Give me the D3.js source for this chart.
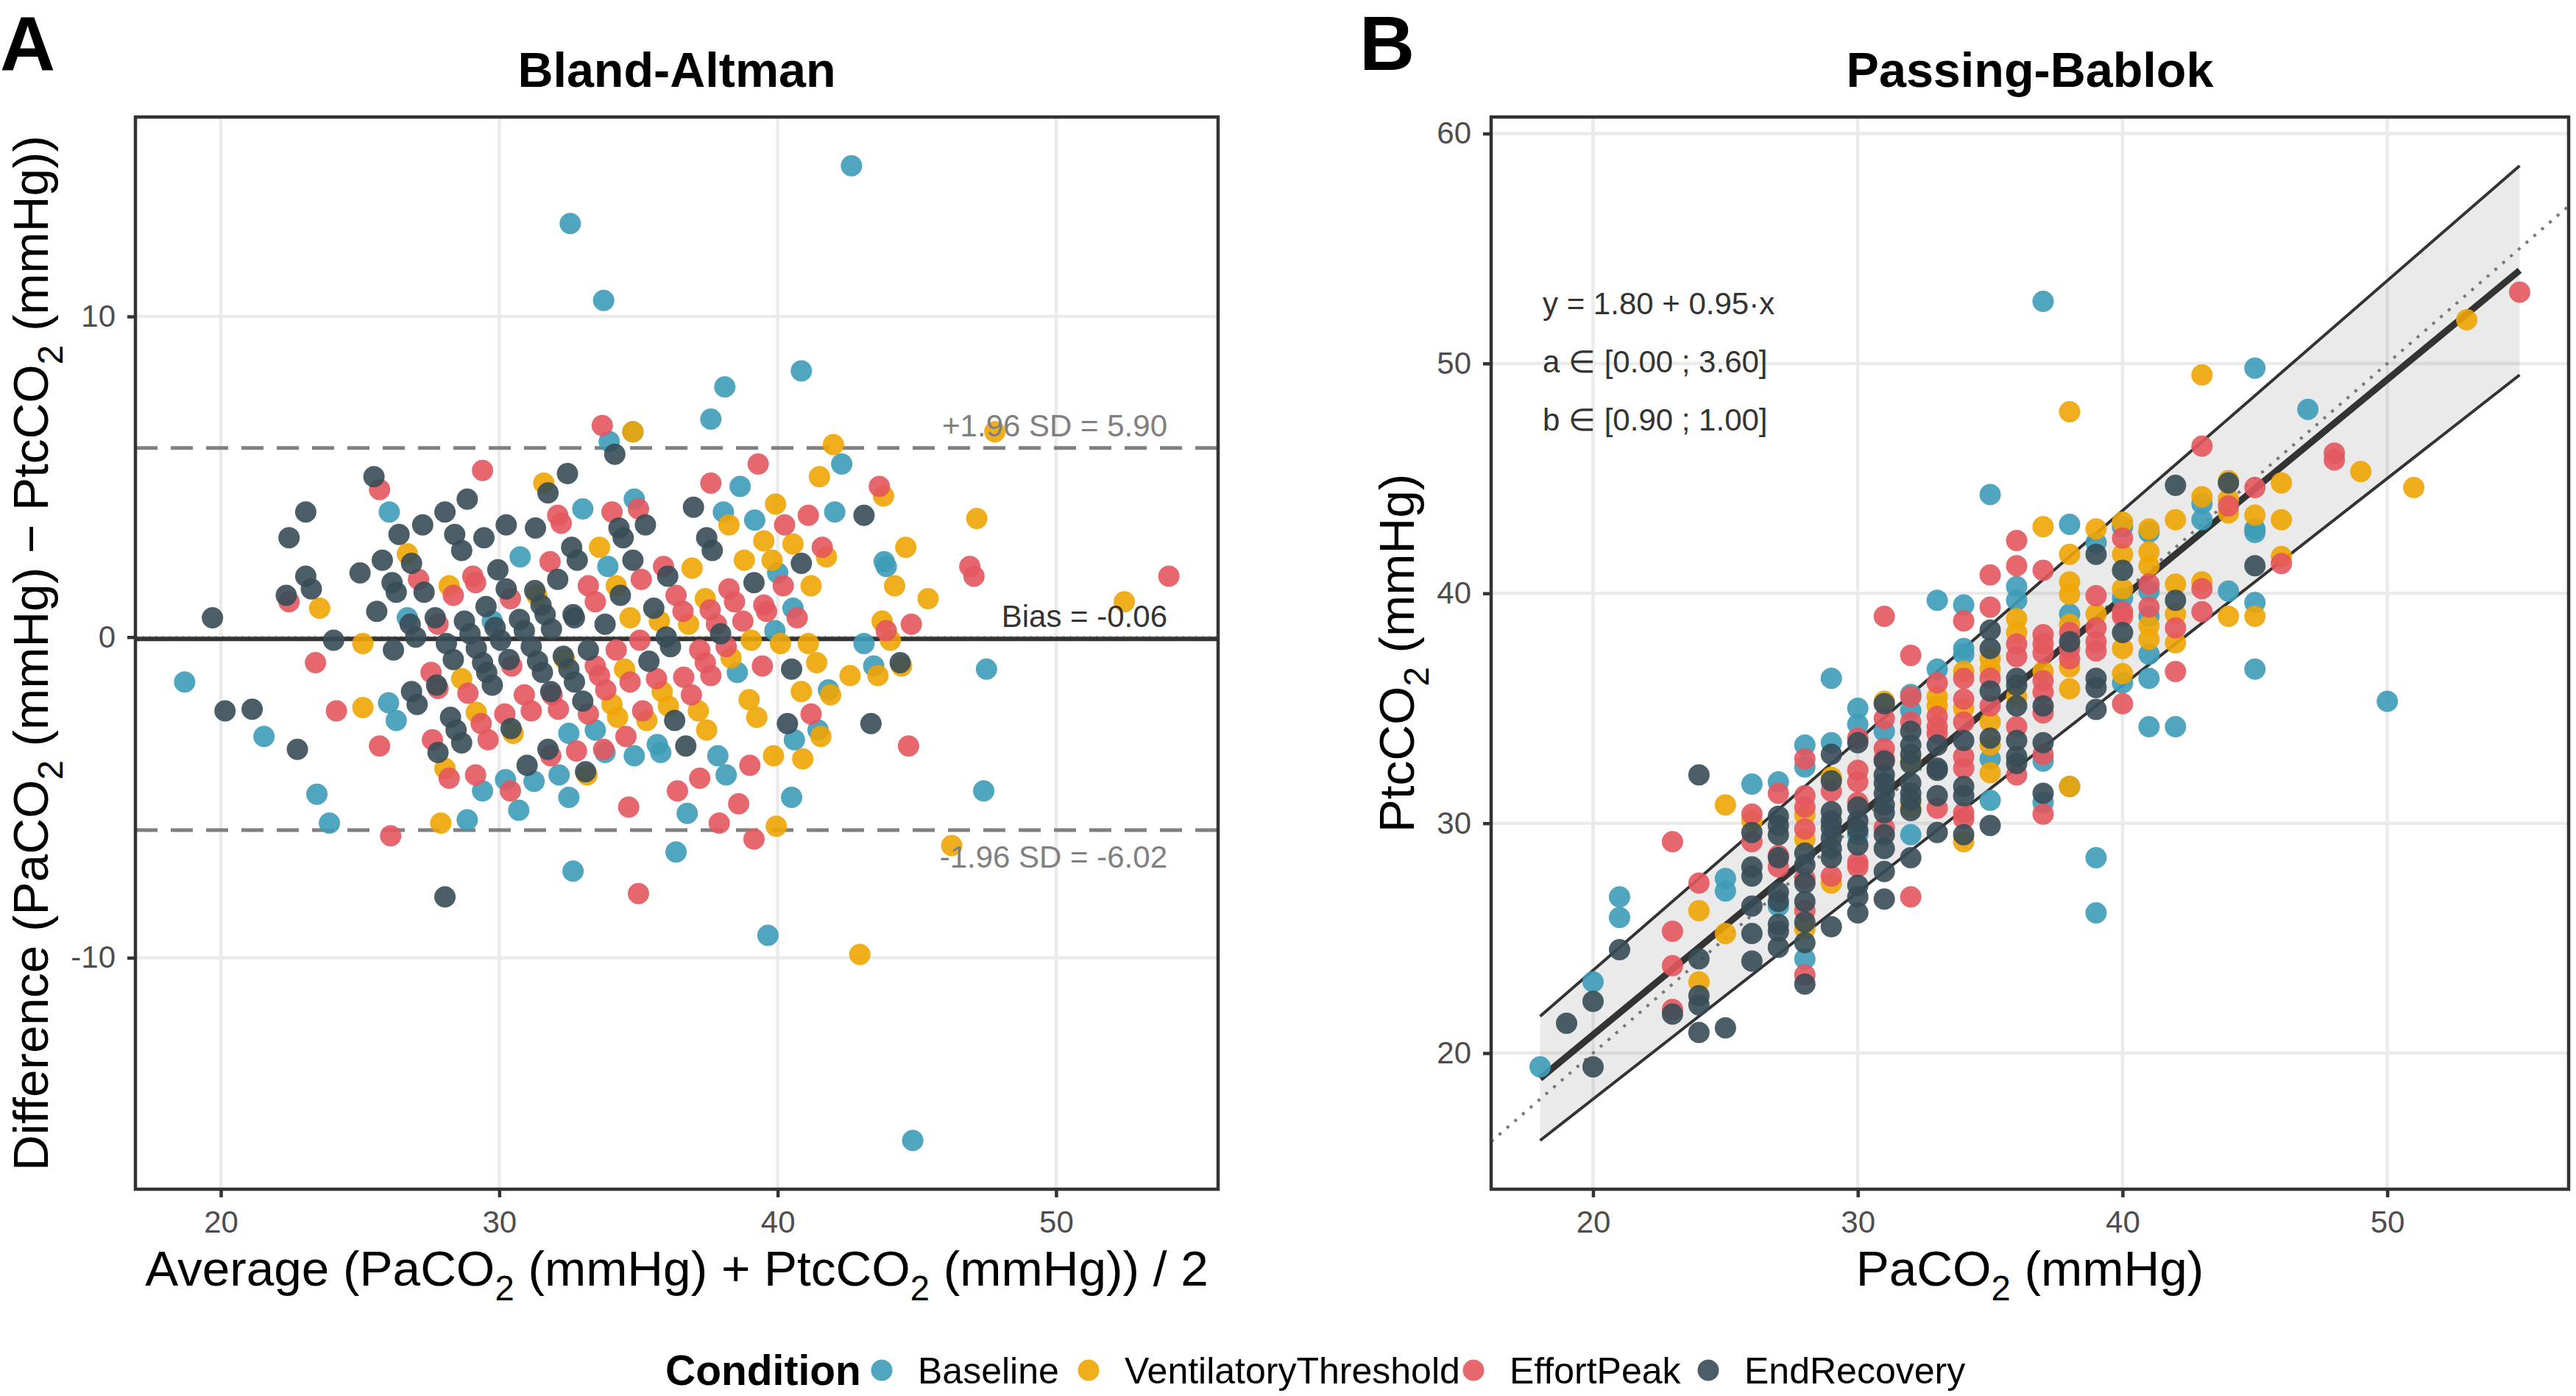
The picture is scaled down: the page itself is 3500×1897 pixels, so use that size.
<!DOCTYPE html>
<html>
<head>
<meta charset="utf-8">
<script src="https://cdn.jsdelivr.net/npm/d3@7"></script>
<style>
  body { margin: 0; background: #fff; }
  svg { display: block; font-family: "Liberation Sans", Arial, Helvetica, sans-serif; }
</style>
</head>
<body>
<div id="chart"></div>
<script>
// conditions and colours
var conditions = ["Baseline", "VentilatoryThreshold", "EffortPeak", "EndRecovery"];
var conditionColors = ["#3D9CB7", "#F0A503", "#E3575E", "#374D56"];

// [PaCO2, PtcCO2] pairs
var baseline = [
  [18,19.4],[20,23.1],[21,26.8],[21,25.9],[25,27.6],[25,27.05],[26,31.7],[27,31.8],[27,26.4],
  [28,33.4],[28,32.45],[28,24.1],[29,36.3],[29,33.5],[30,35.0],[30,34.3],[30,29.5],[31,34.0],
  [32,35.6],[32,34.9],[32,29.5],[33,39.7],[33,36.7],[34,39.5],[34,37.6],[34,37.35],
  [35,44.3],[35,32.8],[35,31.0],[36,40.3],[36,39.7],[37,52.7],[37,32.7],[37,30.9],
  [38,43.0],[38,39.1],[38,31.6],[39,42.2],[39,28.5],[39,26.1],[40,42.9],[40,39.8],[40,36.1],
  [41,42.65],[41,40.1],[41,39.0],[41,37.35],[41,36.3],[41,34.2],[42,34.2],[43,43.9],[43,43.2],
  [44,40.1],[45,49.8],[45,42.8],[45,42.65],[45,39.6],[45,36.7],[47,48.0],[50,35.3]
];
var ventilatoryThreshold = [
  [24,26.2],[24,23.1],[25,30.8],[25,25.2],[26,30.1],[28,30.35],[28,29.3],[28,25.4],[29,32.0],[29,27.4],
  [31,35.3],[32,32.7],[32,30.7],[33,35.5],[33,35.1],[34,36.6],[34,35.0],[34,29.2],
  [35,37.15],[35,36.7],[35,34.4],[35,33.4],[35,32.2],[36,38.9],[36,38.3],[36,35.5],[37,42.9],[37,36.6],
  [38,47.9],[38,41.7],[38,40.5],[38,39.95],[38,38.65],[38,36.8],[38,35.85],[38,31.6],[39,42.8],[39,39.1],
  [40,43.1],[40,41.7],[40,40.2],[40,37.6],[40,36.5],[41,42.8],[41,41.8],[41,41.2],[41,38.6],[41,38.0],
  [42,43.2],[42,40.4],[42,39.1],[42,37.85],[43,49.5],[43,44.2],[43,40.5],[44,44.9],[44,44.1],[44,43.5],[44,39.0],
  [45,43.4],[45,39.0],[46,44.8],[46,43.2],[46,41.6],[49,45.3],[51,44.6],[53,51.9]
];
var effortPeak = [
  [23,29.2],[23,25.3],[23,23.8],[23,21.9],[24,27.4],[26,30.4],[26,29.2],[27,31.3],[27,28.6],[27,28.1],
  [28,32.8],[28,31.2],[28,30.7],[28,29.75],[28,27.6],[28,26.2],[28,23.4],[29,31.4],[29,27.7],
  [30,33.7],[30,32.3],[30,31.8],[30,30.9],[30,28.3],[30,28.1],[31,39.0],[31,34.55],[31,33.25],[31,32.8],[31,29.8],
  [32,37.3],[32,35.5],[32,34.4],[32,26.8],[33,36.1],[33,34.65],[33,34.2],[33,33.9],[33,30.65],
  [34,38.8],[34,36.3],[34,35.4],[34,34.4],[34,32.9],[34,32.4],[34,30.45],[34,30.2],
  [35,40.8],[35,39.4],[35,36.3],[35,35.1],[36,42.3],[36,41.2],[36,37.8],[36,37.25],[36,34.2],[36,32.1],
  [37,41.0],[37,38.2],[37,37.8],[37,37.4],[37,36.2],[37,35.7],[37,34.8],[37,33.0],[37,30.4],
  [38,38.3],[38,37.6],[38,37.15],[39,39.9],[39,38.5],[39,37.9],[39,37.5],[40,42.4],[40,39.2],[40,39.0],[40,35.2],
  [41,40.4],[41,39.4],[42,38.5],[42,36.6],[43,46.4],[43,40.2],[43,39.2],[44,43.8],[45,44.6],[46,41.3],
  [48,46.1],[48,45.8],[55,53.1]
];
var endRecovery = [
  [19,21.3],[20,22.25],[20,19.4],[21,24.5],[23,21.7],[24,32.1],[24,24.1],[24,22.5],[24,22.1],[24,20.9],[25,21.1],
  [26,29.6],[26,28.1],[26,27.7],[26,26.4],[26,25.2],[26,24.0],
  [27,30.3],[27,29.9],[27,29.5],[27,28.5],[27,27.0],[27,26.6],[27,25.6],[27,25.3],[27,24.6],
  [28,28.7],[28,28.2],[28,27.4],[28,26.6],[28,25.7],[28,24.8],[28,23.0],
  [29,33.0],[29,31.85],[29,30.5],[29,30.1],[29,29.8],[29,29.35],[29,28.9],[29,28.5],[29,25.5],
  [30,33.5],[30,30.7],[30,30.1],[30,29.7],[30,29.05],[30,27.3],[30,26.8],[30,26.1],
  [31,35.2],[31,32.7],[31,32.1],[31,31.75],[31,31.3],[31,30.8],[31,30.45],[31,29.5],[31,28.9],[31,27.9],[31,26.7],
  [32,34.0],[32,33.4],[32,33.0],[32,32.6],[32,31.75],[32,31.3],[32,31.0],[32,30.55],[32,28.5],
  [33,33.4],[33,32.4],[33,32.3],[33,31.2],[33,29.6],[34,33.6],[34,31.6],[34,31.2],[34,29.5],
  [35,38.4],[35,37.6],[35,35.75],[35,33.7],[35,29.9],[36,36.3],[36,36.0],[36,35.1],[36,33.6],[36,32.9],[36,32.6],
  [37,35.1],[37,33.5],[37,31.3],[38,37.9],[39,41.7],[39,36.3],[39,35.9],[39,34.95],[40,41.0],[40,38.3],
  [42,44.7],[42,39.7],[44,44.8],[45,41.2]
];
var series = [baseline, ventilatoryThreshold, effortPeak, endRecovery];

// Bland-Altman statistics (as printed)
var baLimits = [5.90, -0.06, -6.02];
var baLabels = ["+1.96 SD = 5.90", "Bias = -0.06", "-1.96 SD = -6.02"];

// Passing-Bablok fit (as printed)
var pbFit = [1.80, 0.95];
var pbIntercept = [0.00, 3.60];
var pbSlope = [0.90, 1.00];
var pbLabels = ["y = 1.80 + 0.95\u00b7x", "a \u2208 [0.00 ; 3.60]", "b \u2208 [0.90 ; 1.00]"];

// tick labels
var aXTicks = [20, 30, 40, 50];
var aYTicks = [-10, 0, 10];
var bXTicks = [20, 30, 40, 50];
var bYTicks = [20, 30, 40, 50, 60];

var svg;
var width = 3500;
var height = 1897;
var rows = [];
var boxA = {x0: 184, x1: 1655, y0: 159, y1: 1616};
var boxB = {x0: 2026, x1: 3490, y0: 159, y1: 1616};
var pointR = 14.5;
var legendKeyX = [1198, 1479, 2002, 2321];

document.addEventListener('DOMContentLoaded', function () {
  svg = d3.select("#chart").append("svg")
    .attr("width", width).attr("height", height);

  series.forEach(function (s, i) {
    s.forEach(function (p) {
      rows.push({cond: i, pa: p[0], ptc: p[1], avg: (p[0] + p[1]) / 2, diff: p[0] - p[1]});
    });
  });

  drawBlandAltman();
  drawPassingBablok();
  drawLegend();
});

function expand(ext) {
  var d = (ext[1] - ext[0]) * 0.05;
  return [ext[0] - d, ext[1] + d];
}

// writes a string where "_2" becomes a subscript 2
function subText(textSel, str, size) {
  var parts = str.split("_2");
  var back = false;
  parts.forEach(function (p, i) {
    var t = textSel.append("tspan").text(p);
    if (back) t.attr("dy", -0.3 * size);
    back = false;
    if (i < parts.length - 1) {
      textSel.append("tspan").attr("dy", 0.3 * size).style("font-size", (0.7 * size) + "px").text("2");
      back = true;
    }
  });
}

function styleAxis(sel) {
  sel.attr("font-size", null).attr("font-family", null);
  sel.select(".domain").remove();
  sel.selectAll(".tick line").attr("stroke", "#333").attr("stroke-width", 4.5);
  sel.selectAll(".tick text").attr("fill", "#4D4D4D").style("font-size", "42px");
}

function drawFrame(g, x, y, xTicks, yTicks, box) {
  g.append("rect").attr("x", box.x0).attr("y", box.y0)
    .attr("width", box.x1 - box.x0).attr("height", box.y1 - box.y0).attr("fill", "#fff");
  g.selectAll(".vgrid").data(xTicks).enter().append("line")
    .attr("x1", d => x(d)).attr("x2", d => x(d)).attr("y1", box.y0).attr("y2", box.y1)
    .attr("stroke", "#EBEBEB").attr("stroke-width", 4.5);
  g.selectAll(".hgrid").data(yTicks).enter().append("line")
    .attr("y1", d => y(d)).attr("y2", d => y(d)).attr("x1", box.x0).attr("x2", box.x1)
    .attr("stroke", "#EBEBEB").attr("stroke-width", 4.5);
  g.append("g").attr("transform", "translate(0," + box.y1 + ")")
    .call(d3.axisBottom(x).tickValues(xTicks).tickSize(11).tickPadding(18).tickFormat(d => String(d)))
    .call(styleAxis);
  g.append("g").attr("transform", "translate(" + box.x0 + ",0)")
    .call(d3.axisLeft(y).tickValues(yTicks).tickSize(11).tickPadding(16).tickFormat(d => String(d)))
    .call(styleAxis);
}

function drawBorder(g, box) {
  g.append("rect").attr("x", box.x0).attr("y", box.y0)
    .attr("width", box.x1 - box.x0).attr("height", box.y1 - box.y0)
    .attr("fill", "none").attr("stroke", "#333").attr("stroke-width", 4.5);
}

function drawTitles(g, box, letter, letterX, title, xTitle, yTitle, yTitleX) {
  var cx = (box.x0 + box.x1) / 2;
  var cy = (box.y0 + box.y1) / 2;
  g.append("text").attr("x", letterX).attr("y", 95).attr("font-weight", "bold")
    .style("font-size", "104px").text(letter);
  g.append("text").attr("x", cx).attr("y", 118).attr("text-anchor", "middle")
    .attr("font-weight", "bold").style("font-size", "66.5px").text(title);
  var xt = g.append("text").attr("x", cx).attr("y", 1747).attr("text-anchor", "middle")
    .style("font-size", "67.5px").attr("fill", "#000");
  subText(xt, xTitle, 67.5);
  var yt = g.append("text").attr("text-anchor", "middle")
    .attr("transform", "translate(" + yTitleX + "," + cy + ") rotate(-90)")
    .style("font-size", "67.5px").attr("fill", "#000");
  subText(yt, yTitle, 67.5);
}

function drawPoints(g, x, y, xKey, yKey) {
  g.selectAll(".pt").data(rows).enter().append("circle")
    .attr("cx", d => x(d[xKey])).attr("cy", d => y(d[yKey])).attr("r", pointR)
    .attr("fill", d => conditionColors[d.cond]).attr("fill-opacity", 0.9);
}

function drawBlandAltman() {
  var g = svg.append("g");
  var x = d3.scaleLinear().domain(expand(d3.extent(rows, d => d.avg))).range([boxA.x0, boxA.x1]);
  var y = d3.scaleLinear().domain(expand(d3.extent(rows, d => d.diff))).range([boxA.y1, boxA.y0]);

  drawFrame(g, x, y, aXTicks, aYTicks, boxA);

  // zero reference
  g.append("line").attr("x1", boxA.x0).attr("x2", boxA.x1).attr("y1", y(0)).attr("y2", y(0))
    .attr("stroke", "#A6A6A6").attr("stroke-width", 3).attr("stroke-dasharray", "3,6");
  // limits of agreement and bias
  g.selectAll(".lim").data(baLimits).enter().append("line")
    .attr("x1", boxA.x0).attr("x2", boxA.x1).attr("y1", d => y(d)).attr("y2", d => y(d))
    .attr("stroke", (d, i) => i === 1 ? "#333" : "#808080")
    .attr("stroke-width", (d, i) => i === 1 ? 6 : 5)
    .attr("stroke-dasharray", (d, i) => i === 1 ? null : "30,18");

  drawPoints(g, x, y, "avg", "diff");

  g.selectAll(".limtxt").data(baLimits).enter().append("text")
    .attr("x", 1586).attr("text-anchor", "end")
    .attr("y", (d, i) => i === 2 ? y(d) + 51 : y(d) - 16)
    .attr("fill", (d, i) => i === 1 ? "#333" : "#808080")
    .style("font-size", "42px").text((d, i) => baLabels[i]);

  drawBorder(g, boxA);
  drawTitles(g, boxA, "A", 0, "Bland-Altman",
    "Average (PaCO_2 (mmHg) + PtcCO_2 (mmHg)) / 2",
    "Difference (PaCO_2 (mmHg) \u2212 PtcCO_2 (mmHg))", 65);
}

function drawPassingBablok() {
  var g = svg.append("g");
  var paExt = d3.extent(rows, d => d.pa);
  var lowLine = v => pbIntercept[0] + pbSlope[0] * v;
  var highLine = v => pbIntercept[1] + pbSlope[1] * v;
  var fitLine = v => pbFit[0] + pbFit[1] * v;
  var yExt = d3.extent(rows.map(d => d.ptc).concat([lowLine(paExt[0]), highLine(paExt[1])]));

  var x = d3.scaleLinear().domain(expand(paExt)).range([boxB.x0, boxB.x1]);
  var y = d3.scaleLinear().domain(expand(yExt)).range([boxB.y1, boxB.y0]);

  drawFrame(g, x, y, bXTicks, bYTicks, boxB);

  g.append("clipPath").attr("id", "clipB").append("rect")
    .attr("x", boxB.x0).attr("y", boxB.y0).attr("width", boxB.x1 - boxB.x0).attr("height", boxB.y1 - boxB.y0);
  var inner = g.append("g").attr("clip-path", "url(#clipB)");

  inner.append("path").datum(paExt)
    .attr("d", d3.area().x(d => x(d)).y0(d => y(lowLine(d))).y1(d => y(highLine(d))))
    .attr("fill", "#808080").attr("fill-opacity", 0.17);
  [lowLine, highLine].forEach(function (f) {
    inner.append("line").attr("x1", x(paExt[0])).attr("x2", x(paExt[1]))
      .attr("y1", y(f(paExt[0]))).attr("y2", y(f(paExt[1])))
      .attr("stroke", "#333").attr("stroke-width", 4);
  });
  var xd = x.domain();
  inner.append("line").attr("x1", x(xd[0])).attr("x2", x(xd[1]))
    .attr("y1", y(xd[0])).attr("y2", y(xd[1]))
    .attr("stroke", "#777").attr("stroke-width", 4).attr("stroke-dasharray", "4,10");
  inner.append("line").attr("x1", x(paExt[0])).attr("x2", x(paExt[1]))
    .attr("y1", y(fitLine(paExt[0]))).attr("y2", y(fitLine(paExt[1])))
    .attr("stroke", "#333").attr("stroke-width", 9);

  drawPoints(inner, x, y, "pa", "ptc");

  g.selectAll(".pbtxt").data(pbLabels).enter().append("text")
    .attr("x", 2096).attr("y", (d, i) => 427 + i * 79)
    .attr("fill", "#333").style("font-size", "42px").text(d => d);

  drawBorder(g, boxB);
  drawTitles(g, boxB, "B", 1847, "Passing-Bablok", "PaCO_2 (mmHg)", "PtcCO_2 (mmHg)", 1921);
}

function drawLegend() {
  var legendY = 1862;
  var lg = svg.append("g");
  lg.append("text").attr("x", 904).attr("y", 1882)
    .attr("font-weight", "bold").style("font-size", "57px").text("Condition");
  conditions.forEach(function (c, i) {
    lg.append("circle").attr("cx", legendKeyX[i]).attr("cy", legendY).attr("r", pointR)
      .attr("fill", conditionColors[i]).attr("fill-opacity", 0.9);
    lg.append("text").attr("x", legendKeyX[i] + 49).attr("y", 1880)
      .style("font-size", "50px").attr("fill", "#000").text(c);
  });
}
</script>
</body>
</html>
